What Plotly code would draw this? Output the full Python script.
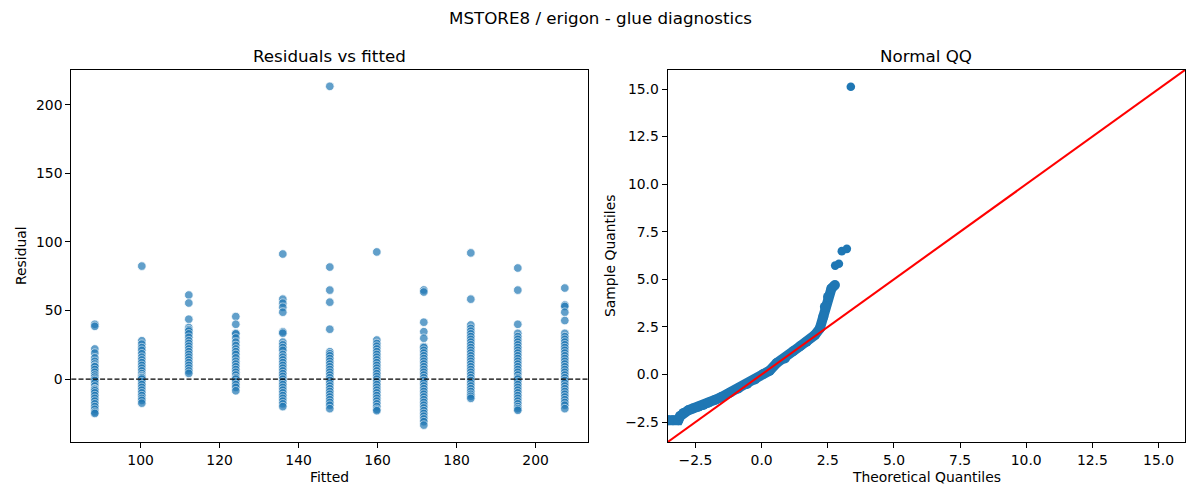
import plotly.graph_objects as go

# ---------------- data ----------------
fitted_levels = [88.4, 100.3, 112.2, 124.1, 136.0, 147.9, 159.8, 171.7, 183.6, 195.5, 207.4]

resid_088 = [40, 38.5, 22, 19, 15.5, 13, 11, 9.5, 9, 7, 5, 3, 1.5, 0, -1, -3, -5, -7, -7.5,
             -8.5, -10, -12, -14, -16, -18, -20, -22, -24, -25]
resid_100 = [82.4, 28, 25.5, 23, 21, 18.5, 16, 14, 12, 10, 8, 6, 4, 2.5, 1.5, 1, 0, -2, -4,
             -6, -8, -10, -12, -14, -15.5, -17.5]
resid_112 = [61.3, 55.5, 43.7, 37.6, 36, 35, 33, 30.5, 28, 26, 24, 22, 20, 18, 16, 14, 12,
             10, 8, 6, 4.2]
resid_124 = [45.6, 40, 33.4, 33, 30, 27, 24.5, 22, 20, 18, 15.5, 13, 11, 9, 7, 5, 3, 1, 0,
             -2, -4, -6, -8.5]
resid_136 = [91.2, 58.3, 55.4, 52.4, 48.8, 34.5, 33.5, 27, 25, 23, 21, 18, 16, 14, 12, 10, 8,
             6, 4, 2, 0, -2, -4, -6, -8, -10, -12, -14, -16, -18, -20]
resid_148 = [213.4, 81.7, 64.9, 56.1, 36.4, 20, 18.5, 17, 15, 13, 11, 9, 7, 5, 3, 1, -1, -3,
             -5, -7, -9, -11, -13, -15, -17, -19, -21.5]
resid_160 = [92.7, 28.5, 26, 24, 22, 20, 18, 16, 14, 12, 10, 8, 6, 4, 2, 0, -2, -4, -6, -8,
             -10, -12, -14, -16, -18, -20, -22, -23]
resid_172 = [65, 63.5, 41.5, 34.6, 29.8, 23.7, 23, 21, 19, 17, 15, 13, 11, 9, 7, 5, 3, 1, -1,
             -3, -5, -7, -9, -11, -13, -15, -17, -19, -21, -23, -25, -27, -29, -31, -33.5]
resid_184 = [92, 58.3, 39.5, 37, 35, 33, 31, 29, 27, 25, 23, 21, 19, 17, 15, 13, 11, 9, 7, 5,
             3, 1, -1, -3, -5, -7, -9, -11, -12.5, -14]
resid_196 = [81, 64.9, 40, 33.4, 31, 29, 27, 25, 23, 21, 19, 17, 15, 13, 11, 9, 7, 5, 3, 1, 0,
             -2, -4, -6, -8, -10, -12, -14, -16, -18, -20, -21.5, -22.7]
resid_207 = [66.4, 54, 53, 48.8, 42.7, 33.4, 31, 29, 27, 25, 23, 21, 19, 17, 15, 13, 11, 9, 7,
             5, 3, 1, -1, -3, -5, -7, -9, -11, -13, -15, -17, -19, -21.5]

residual_groups = [resid_088, resid_100, resid_112, resid_124, resid_136, resid_148,
                   resid_160, resid_172, resid_184, resid_196, resid_207]

# Normal QQ: dense body of the curve and the separate upper points
qq_theoretical = [-3.54, -3.35, -3.15, -3.08, -2.95, -2.77, -2.6, -2.39, -2.2, -2.02, -1.75,
                  -1.51, -1.2, -0.88, -0.55, -0.25, 0.06, 0.3, 0.57, 0.88, 1.19, 1.45, 1.7,
                  2.01, 2.2, 2.33, 2.39, 2.51, 2.64, 2.77]
qq_sample = [-2.41, -2.41, -2.41, -2.19, -2.02, -1.88, -1.79, -1.70, -1.60, -1.49, -1.33,
             -1.18, -0.96, -0.74, -0.50, -0.26, 0.02, 0.2, 0.6, 0.84, 1.22, 1.48, 1.72,
             2.07, 2.42, 3.03, 3.56, 4.08, 4.52, 4.70]
qq_upper_theoretical = [2.78, 2.92, 3.03, 3.22, 3.37]
qq_upper_sample = [5.72, 5.82, 6.48, 6.60, 15.12]

qq_limits = [-3.55, 16.0]
left_x_range = [82.45, 213.35]
left_y_range = [-45.8, 225.3]

# ---------------- figure ----------------
BLUE = "#1f77b4"
FONT = "DejaVu Sans"
TICK = 13.9

xs, ys = [], []
for f, grp in zip(fitted_levels, residual_groups):
    xs += [f] * len(grp)
    ys += grp

fig = go.Figure()

fig.add_trace(go.Scatter(
    x=xs, y=ys, mode="markers", xaxis="x", yaxis="y", showlegend=False,
    marker=dict(color=BLUE, size=8.6, opacity=0.7, line=dict(color="white", width=0.8)),
))

fig.add_trace(go.Scatter(
    x=qq_theoretical, y=qq_sample, mode="lines+markers", xaxis="x2", yaxis="y2",
    showlegend=False, line=dict(color=BLUE, width=10),
    marker=dict(color=BLUE, size=10),
))
fig.add_trace(go.Scatter(
    x=qq_upper_theoretical, y=qq_upper_sample, mode="markers", xaxis="x2", yaxis="y2",
    showlegend=False, marker=dict(color=BLUE, size=8.6),
))
fig.add_trace(go.Scatter(
    x=qq_limits, y=qq_limits, mode="lines", xaxis="x2", yaxis="y2", showlegend=False,
    line=dict(color="red", width=2.1),
))

# dashed zero line
fig.add_shape(type="line", xref="x domain", yref="y", x0=0, x1=1, y0=0, y1=0,
              line=dict(color="black", width=1.3, dash="5px,2.2px"))

axis_common = dict(showgrid=False, zeroline=False, showline=True, mirror=True,
                   linecolor="black", linewidth=1.1, ticks="outside", ticklen=5,
                   tickwidth=1.1, tickcolor="black",
                   tickfont=dict(family=FONT, size=TICK, color="black"))

L0, L1 = 71.3 / 1200, 588.3 / 1200
R0, R1 = 667.7 / 1200, 1185 / 1200
Y0, Y1 = 1 - 442 / 500, 1 - 70 / 500

fig.update_layout(
    width=1200, height=500, margin=dict(l=0, r=0, t=0, b=0),
    paper_bgcolor="white", plot_bgcolor="white",
    font=dict(family=FONT, color="black"),
    xaxis=dict(domain=[L0, L1], range=left_x_range, tickvals=[100, 120, 140, 160, 180, 200],
               anchor="y", **axis_common),
    yaxis=dict(domain=[Y0, Y1], range=left_y_range, tickvals=[0, 50, 100, 150, 200],
               anchor="x", **axis_common),
    xaxis2=dict(domain=[R0, R1], range=qq_limits, dtick=2.5, tick0=0, tickformat=".1f",
                anchor="y2", **axis_common),
    yaxis2=dict(domain=[Y0, Y1], range=qq_limits, dtick=2.5, tick0=0, tickformat=".1f",
                anchor="x2", **axis_common),
)

def ann(text, x, y, size=TICK, angle=0):
    fig.add_annotation(text=text, x=x, y=y, xref="paper", yref="paper", showarrow=False,
                       xanchor="center", yanchor="middle", textangle=angle,
                       font=dict(family=FONT, size=size, color="black"))

ann("MSTORE8 / erigon - glue diagnostics", 0.5, 1 - 18 / 500, size=16.7)
ann("Residuals vs fitted", (L0 + L1) / 2, 1 - 56 / 500, size=16.7)
ann("Normal QQ", (R0 + R1) / 2, 1 - 56 / 500, size=16.7)
ann("Fitted", (L0 + L1) / 2, 1 - 477 / 500)
ann("Theoretical Quantiles", (R0 + R1) / 2, 1 - 477 / 500)
ann("Residual", 21 / 1200, (Y0 + Y1) / 2, angle=-90)
ann("Sample Quantiles", 610 / 1200, (Y0 + Y1) / 2, angle=-90)

fig.write_html("out.html", config={"displayModeBar": False},
               post_script="document.body.style.margin='0px';document.body.style.overflow='hidden';")
